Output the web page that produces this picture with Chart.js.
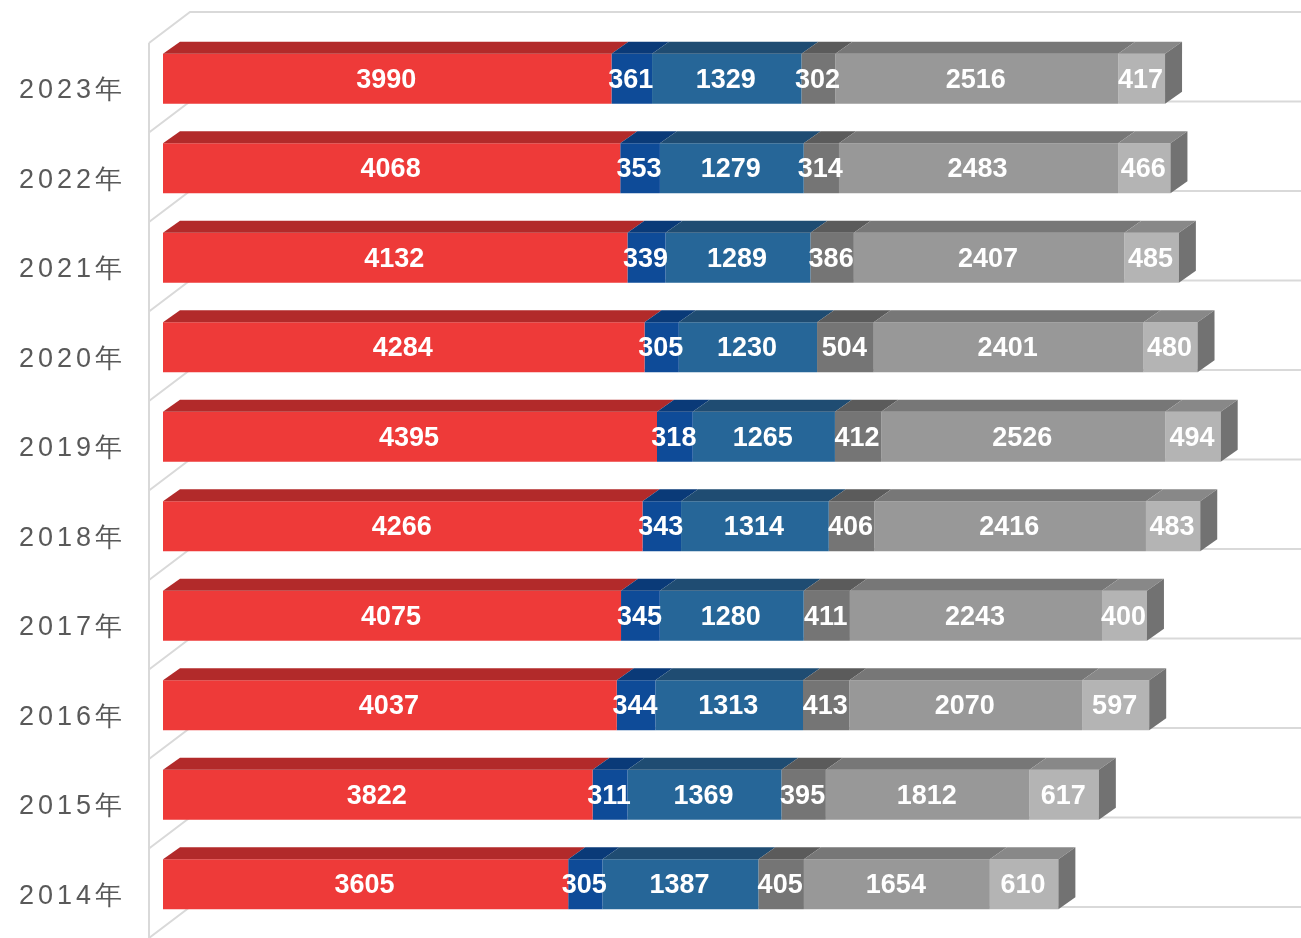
<!DOCTYPE html>
<html>
<head>
<meta charset="utf-8">
<script src="https://cdn.jsdelivr.net/npm/chart.js@4/dist/chart.umd.min.js"></script>
<style>
  html, body { margin: 0; padding: 0; background: #fff; }
  #wrap { width: 1301px; height: 938px; }
</style>
</head>
<body>
<div id="wrap"><canvas id="grafico"></canvas></div>
<script>
// Datos (de arriba hacia abajo)
const anios = ['2023年', '2022年', '2021年', '2020年', '2019年', '2018年', '2017年', '2016年', '2015年', '2014年'];
const serie1 = [3990, 4068, 4132, 4284, 4395, 4266, 4075, 4037, 3822, 3605];
const serie2 = [361, 353, 339, 305, 318, 343, 345, 344, 311, 305];
const serie3 = [1329, 1279, 1289, 1230, 1265, 1314, 1280, 1313, 1369, 1387];
const serie4 = [302, 314, 386, 504, 412, 406, 411, 413, 395, 405];
const serie5 = [2516, 2483, 2407, 2401, 2526, 2416, 2243, 2070, 1812, 1654];
const serie6 = [417, 466, 485, 480, 494, 483, 400, 597, 617, 610];

// colores: frente / cara superior
const frente = ['#EE3A39', '#0E4B98', '#266698', '#757575', '#989898', '#B4B4B4'];
const arriba = ['#B22A2A', '#0A3A78', '#1F4C72', '#5B5B5B', '#777777', '#888888'];
const ladoDerecho = '#727272';

// profundidad 3D
const DX = 17, DY = -12;

const efecto3D = {
    id: 'efecto3D',
    beforeDraw(chart) {
        chart.ctx.letterSpacing = '4px';
    },
    beforeDatasetsDraw(chart) {
        const ctx = chart.ctx;
        ctx.letterSpacing = '0px';
        const y = chart.scales.y;
        const x = chart.scales.x;
        const left = x.getPixelForValue(0);
        const n = anios.length;
        const paso = (y.bottom - y.top) / n;
        ctx.save();
        ctx.strokeStyle = '#D9D9D9';
        ctx.lineWidth = 2;
        // pared izquierda
        ctx.beginPath();
        ctx.moveTo(left - 14, y.top + 9);
        ctx.lineTo(left - 14, chart.height);
        ctx.stroke();
        // lineas de division
        for (let k = 0; k <= n; k++) {
            const yb = y.top + paso * k;
            ctx.beginPath();
            ctx.moveTo(left - 14, yb + 9);
            ctx.lineTo(left + 27, yb - 22);
            ctx.lineTo(chart.width, yb - 22);
            ctx.stroke();
        }
        ctx.restore();
    },
    afterDatasetsDraw(chart) {
        const ctx = chart.ctx;
        ctx.save();
        const nSets = chart.data.datasets.length;
        chart.data.datasets.forEach((ds, i) => {
            const meta = chart.getDatasetMeta(i);
            meta.data.forEach(bar => {
                const p = bar.getProps(['x', 'y', 'base', 'height'], true);
                const top = p.y - p.height / 2;
                const bottom = p.y + p.height / 2;
                const x0 = Math.min(p.base, p.x), x1 = Math.max(p.base, p.x);
                ctx.fillStyle = arriba[i];
                ctx.beginPath();
                ctx.moveTo(x0, top);
                ctx.lineTo(x1, top);
                ctx.lineTo(x1 + DX, top + DY);
                ctx.lineTo(x0 + DX, top + DY);
                ctx.closePath();
                ctx.fill();
                if (i === nSets - 1) {
                    ctx.fillStyle = ladoDerecho;
                    ctx.beginPath();
                    ctx.moveTo(x1, top);
                    ctx.lineTo(x1 + DX, top + DY);
                    ctx.lineTo(x1 + DX, bottom + DY);
                    ctx.lineTo(x1, bottom);
                    ctx.closePath();
                    ctx.fill();
                }
            });
        });
        // etiquetas de valores
        ctx.fillStyle = '#FFFFFF';
        ctx.font = 'bold 27px "Liberation Sans", Arial, sans-serif';
        ctx.textAlign = 'center';
        ctx.textBaseline = 'middle';
        chart.data.datasets.forEach((ds, i) => {
            const meta = chart.getDatasetMeta(i);
            meta.data.forEach((bar, j) => {
                const p = bar.getProps(['x', 'y', 'base'], true);
                ctx.fillText(String(ds.data[j]), (p.x + p.base) / 2 - 1, p.y + 1.5);
            });
        });
        ctx.restore();
    }
};

const series = [serie1, serie2, serie3, serie4, serie5, serie6];

new Chart(document.getElementById('grafico'), {
    type: 'bar',
    data: {
        labels: anios,
        datasets: series.map((s, i) => ({
            label: 'Serie ' + (i + 1),
            data: s,
            backgroundColor: frente[i],
            borderWidth: 0,
            barPercentage: 0.56,
            categoryPercentage: 1
        }))
    },
    options: {
        indexAxis: 'y',
        responsive: true,
        maintainAspectRatio: false,
        animation: false,
        layout: { padding: { top: 34, right: 14, bottom: 9, left: 0 } },
        plugins: {
            legend: { display: false },
            tooltip: { enabled: false }
        },
        scales: {
            x: {
                stacked: true,
                min: 0,
                max: 10000,
                display: false
            },
            y: {
                stacked: true,
                grid: { display: false, drawTicks: false },
                border: { display: false },
                afterFit(scale) {
                    scale.width = 163;
                    scale.paddingTop = 0;
                    scale.paddingBottom = 0;
                },
                ticks: {
                    padding: 37,
                    labelOffset: 12,
                    color: '#595959',
                    font: { size: 27, family: '"Liberation Sans", Arial, sans-serif' }
                }
            }
        }
    },
    plugins: [efecto3D]
});
</script>
</body>
</html>
